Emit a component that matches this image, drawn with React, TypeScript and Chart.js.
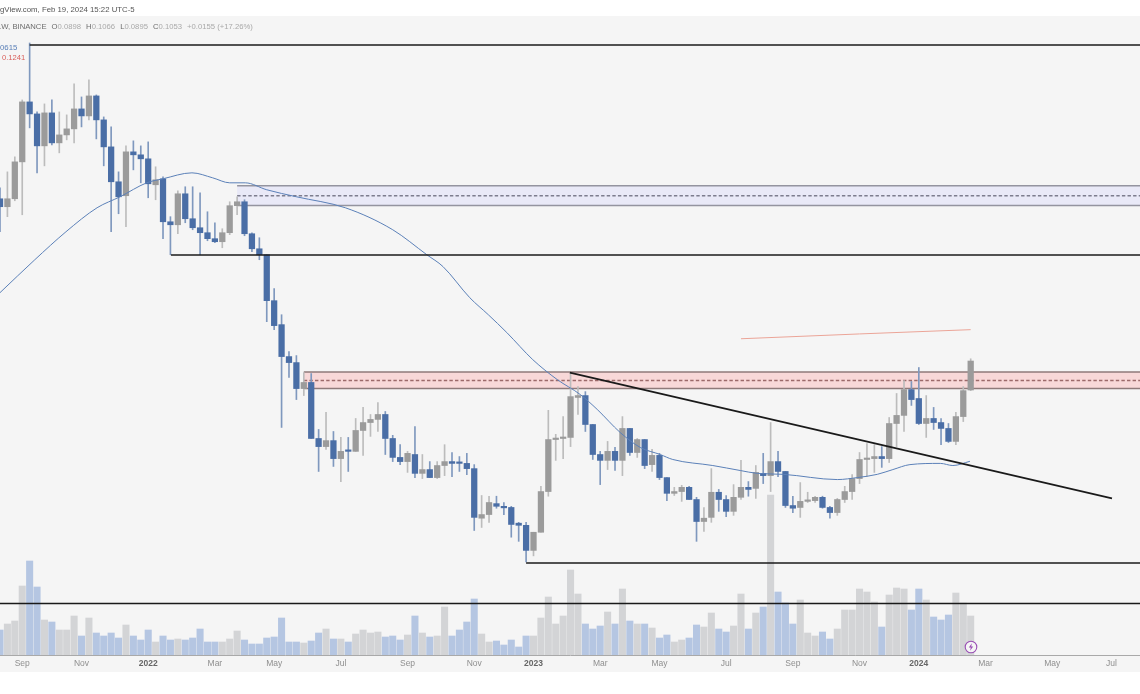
import React, { useEffect, useRef } from "react";
import { Chart, registerables } from "chart.js";

Chart.register(...registerables);

// Weekly candles, one entry per week from the left edge of the picture
const opens = [.2568,.2458,.2568,.3145,.4372,.4093,.3434,.4116,.3491,.3647,.3770,.4207,.4048,.4518,.3961,.3415,.2819,.2611,.3323,.3269,.3198,.2773,.2865,.2263,.2226,.2639,.2301,.2190,.2131,.2062,.2028,.2131,.2472,.2526,.2119,.1951,.1888,.1467,.1286,.1079,.1044,.0905,.0936,.0688,.0658,.0680,.0616,.0644,.0641,.0719,.0751,.0764,.0785,.0688,.0620,.0606,.0630,.0568,.0580,.0555,.0593,.0606,.0603,.0600,.0583,.0444,.0453,.0481,.0471,.0471,.0432,.0427,.0372,.0411,.0514,.0684,.0688,.0692,.0862,.0871,.0743,.0630,.0610,.0641,.0610,.0727,.0637,.0684,.0596,.0627,.0555,.0509,.0514,.0526,.0492,.0436,.0446,.0512,.0492,.0461,.0498,.0526,.0523,.0568,.0561,.0606,.0574,.0476,.0471,.0487,.0489,.0498,.0471,.0458,.0492,.0514,.0552,.0613,.0616,.0623,.0616,.0747,.0781,.0900,.0857,.0747,.0768,.0751,.0727,.0677,.0776,.0898];
const highs = [.2728,.2977,.3233,.4420,.6043,.4138,.4324,.4420,.4138,.4071,.4826,.4493,.4933,.4543,.4026,.3811,.2977,.3434,.3530,.3434,.3510,.3061,.2897,.2327,.2683,.2743,.2743,.2654,.2391,.2251,.2178,.2526,.2596,.2554,.2131,.2073,.1888,.1567,.1358,.1109,.1085,.0988,.0983,.0723,.0794,.0715,.0692,.0692,.0768,.0816,.0785,.0838,.0798,.0700,.0665,.0641,.0735,.0630,.0606,.0606,.0665,.0637,.0623,.0634,.0596,.0503,.0501,.0501,.0484,.0474,.0434,.0434,.0411,.0529,.0803,.0704,.0776,.0988,.0915,.0890,.0743,.0641,.0677,.0655,.0776,.0727,.0688,.0684,.0648,.0634,.0555,.0526,.0532,.0529,.0498,.0471,.0583,.0520,.0503,.0534,.0610,.0543,.0593,.0634,.0751,.0641,.0574,.0501,.0540,.0512,.0501,.0501,.0474,.0495,.0529,.0564,.0637,.0669,.0665,.0658,.0772,.0881,.0946,.0941,.1016,.0871,.0816,.0768,.0747,.0794,.0915,.1066];
const lows = [.2142,.2327,.2540,.2352,.3791,.2961,.3077,.3453,.3305,.3549,.3491,.3811,.3961,.3568,.3077,.2142,.2365,.2202,.3010,.2803,.2582,.2554,.2062,.1888,.2119,.2251,.2166,.1888,.2039,.2017,.1962,.2108,.2352,.2096,.1920,.1837,.1307,.1251,.0731,.0962,.0852,.0871,.0688,.0574,.0648,.0590,.0543,.0574,.0641,.0627,.0696,.0715,.0630,.0606,.0596,.0571,.0555,.0552,.0555,.0552,.0561,.0558,.0574,.0564,.0415,.0422,.0434,.0469,.0453,.0400,.0391,.0349,.0361,.0411,.0501,.0610,.0616,.0658,.0785,.0715,.0613,.0534,.0580,.0577,.0561,.0627,.0620,.0583,.0574,.0549,.0489,.0503,.0487,.0492,.0391,.0413,.0434,.0461,.0448,.0451,.0492,.0501,.0495,.0537,.0514,.0558,.0471,.0458,.0446,.0484,.0484,.0469,.0444,.0451,.0484,.0492,.0537,.0558,.0571,.0587,.0603,.0658,.0715,.0825,.0743,.0692,.0723,.0665,.0673,.0665,.0755,.0895];
const closes = [.2458,.2568,.3145,.4372,.4093,.3434,.4116,.3491,.3647,.3770,.4207,.4048,.4518,.3961,.3415,.2819,.2596,.3323,.3269,.3198,.2788,.2850,.2263,.2226,.2639,.2301,.2190,.2131,.2062,.2028,.2131,.2472,.2526,.2119,.1951,.1888,.1467,.1279,.1079,.1044,.0905,.0936,.0688,.0658,.0680,.0616,.0641,.0641,.0719,.0751,.0764,.0785,.0688,.0620,.0606,.0634,.0568,.0580,.0555,.0593,.0606,.0600,.0600,.0583,.0446,.0453,.0484,.0474,.0470,.0429,.0427,.0372,.0411,.0514,.0684,.0688,.0692,.0866,.0871,.0743,.0630,.0610,.0641,.0610,.0727,.0637,.0684,.0593,.0627,.0555,.0509,.0514,.0526,.0492,.0436,.0444,.0512,.0492,.0461,.0498,.0526,.0520,.0571,.0561,.0606,.0574,.0476,.0469,.0487,.0489,.0498,.0471,.0458,.0492,.0514,.0552,.0613,.0616,.0623,.0616,.0747,.0781,.0900,.0852,.0747,.0768,.0751,.0727,.0677,.0776,.0895,.1053];
const volumes = [25,31,34,69,94,68,35,33,25,25,39,19,37,22,19,22,17,30,19,15,25,13,19,15,16,15,17,26,13,13,13,16,24,15,11,11,17,18,37,13,13,12,14,22,26,16,16,13,21,25,22,23,18,19,15,20,39,22,18,19,48,19,25,33,56,21,13,14,10,15,8,19,19,37,58,31,39,85,61,31,26,29,43,31,66,34,31,31,27,17,20,13,15,17,30,28,42,26,23,29,61,26,42,48,160,63,52,31,55,22,19,23,16,26,45,45,66,63,53,28,60,67,66,45,66,55,38,35,40,62,52,39];

// Moving average
const maWeeks = [0,4.7,8.9,13.1,16.2,19.8,22,25.9,28.7,31,33.1,36,40,46.6,53,57.6,59.8,63.4,65.9,68.4,71.9,75.2,78.3,80.6,83.7,86.4,89.1,90.8,96.2,99.9,102.2,105.7,113,115.7,118.4,120.5,122.8,126.9,128.6,130.9];
const maValues = [.1533,.1837,.2142,.2444,.2596,.2803,.2866,.2961,.2881,.2803,.2803,.2698,.2596,.2444,.2166,.1888,.1768,.1491,.1358,.1231,.1061,.0951,.0876,.0807,.0711,.0655,.0630,.0613,.0593,.0577,.0568,.0565,.0549,.0555,.0565,.0580,.0596,.0600,.0593,.0607];

const redWeeks = [100, 116, 131];
const redValues = [.1190, .1222, .1251];

const trendWeeks = [76.9, 150.07];
const trendValues = [.0988, .0495];

const lastWeek = 153.85;
const levelHigh = { from: 4, value: .5977 };
const levelMid = { from: 23.07, value: .1885 };
const levelLow = { from: 71, value: .0347 };
const levelVol = { from: 0, value: .02778 };

const purpleZone = { from: 32, top: .2758, mid: .2611, bottom: .2475 };
const redZone = { from: 41, top: .0991, mid: .0946, bottom: .0905 };

const tickWeeks = [3, 11, 20, 29, 37, 46, 55, 64, 72, 81, 89, 98, 107, 116, 124, 133, 142, 150];
const tickLabels = ["Sep", "Nov", "2022", "Mar", "May", "Jul", "Sep", "Nov", "2023", "Mar", "May", "Jul", "Sep", "Nov", "2024", "Mar", "May", "Jul"];
const yearLabels = ["2022", "2023", "2024"];

const ohlcParts = [
  ["O", "0.0898"],
  ["H", "0.1066"],
  ["L", "0.0895"],
  ["C", "0.1053"],
];

const FONT = '"Liberation Sans", Arial, sans-serif';

const hline = (level: { from: number; value: number }) => ({
  type: "line" as const,
  data: [{ x: level.from, y: level.value }, { x: lastWeek, y: level.value }],
  borderColor: "#1a1a1a",
  borderWidth: 1.6,
  pointRadius: 0,
  order: 5,
  yAxisID: "y",
  xAxisID: "x",
});

const zoneDatasets = (z: typeof purpleZone, fill: string, edge: string, dash: string) => [
  {
    type: "line" as const,
    data: [{ x: z.from, y: z.top }, { x: lastWeek, y: z.top }],
    borderColor: edge,
    borderWidth: 1.5,
    pointRadius: 0,
    fill: "+1",
    backgroundColor: fill,
    order: 50,
    yAxisID: "y",
    xAxisID: "x",
  },
  {
    type: "line" as const,
    data: [{ x: z.from, y: z.bottom }, { x: lastWeek, y: z.bottom }],
    borderColor: edge,
    borderWidth: 1.5,
    pointRadius: 0,
    order: 49,
    yAxisID: "y",
    xAxisID: "x",
  },
  {
    type: "line" as const,
    data: [{ x: z.from, y: z.mid }, { x: lastWeek, y: z.mid }],
    borderColor: dash,
    borderWidth: 1.3,
    borderDash: [3.4, 2.2],
    pointRadius: 0,
    order: 48,
    yAxisID: "y",
    xAxisID: "x",
  },
];

export default function App() {
  const ref = useRef<HTMLCanvasElement | null>(null);

  useEffect(() => {
    if (!ref.current) return;
    const weeks = opens.map((_, i) => i);
    const isDown = (i: number) => closes[i] < opens[i];
    const isYearTick = (ctx: any) => yearLabels.includes(tickLabels[tickWeeks.indexOf(ctx?.tick?.value)]);
    const chart = new Chart(ref.current, {
      type: "bar",
      data: {
        datasets: [
          {
            type: "bar",
            data: weeks.map((i) => ({ x: i, y: volumes[i] })),
            backgroundColor: weeks.map((i) => (isDown(i) ? "#b5c6e2" : "#d3d4d6")),
            barThickness: 6.4,
            grouped: false,
            order: 60,
            yAxisID: "yVol",
            xAxisID: "x",
          },
          ...zoneDatasets(purpleZone, "#e9e9f7", "#94949f", "#7d7d8e"),
          ...zoneDatasets(redZone, "#f8d8d8", "#8f7a7a", "#9c6a6a"),
          {
            type: "bar",
            data: weeks.map((i) => ({ x: i, y: [lows[i], highs[i]] })),
            backgroundColor: weeks.map((i) => (isDown(i) ? "#7f98be" : "#bcbcbc")),
            barThickness: 1,
            grouped: false,
            order: 30,
            yAxisID: "y",
            xAxisID: "x",
          },
          {
            type: "bar",
            data: weeks.map((i) => ({ x: i, y: [Math.min(opens[i], closes[i]), Math.max(opens[i], closes[i])] })),
            backgroundColor: weeks.map((i) => (isDown(i) ? "#4a6ea6" : "#9b9b9b")),
            barThickness: 5.6,
            minBarLength: 1.5,
            grouped: false,
            order: 20,
            yAxisID: "y",
            xAxisID: "x",
          },
          {
            type: "line",
            data: maWeeks.map((w, i) => ({ x: w, y: maValues[i] })),
            borderColor: "#5b80b8",
            borderWidth: 1,
            pointRadius: 0,
            cubicInterpolationMode: "monotone",
            order: 10,
            yAxisID: "y",
            xAxisID: "x",
          },
          {
            type: "line",
            data: redWeeks.map((w, i) => ({ x: w, y: redValues[i] })),
            borderColor: "#eba497",
            borderWidth: 1,
            pointRadius: 0,
            order: 10,
            yAxisID: "y",
            xAxisID: "x",
          },
          {
            type: "line",
            data: trendWeeks.map((w, i) => ({ x: w, y: trendValues[i] })),
            borderColor: "#1a1a1a",
            borderWidth: 1.7,
            pointRadius: 0,
            order: 5,
            yAxisID: "y",
            xAxisID: "x",
          },
          hline(levelHigh),
          hline(levelMid),
          hline(levelLow),
          hline(levelVol),
        ] as any,
      },
      options: {
        animation: false,
        responsive: false,
        devicePixelRatio: 1,
        layout: { padding: 0 },
        plugins: { legend: { display: false }, tooltip: { enabled: false } },
        scales: {
          x: {
            type: "linear",
            min: 0,
            max: lastWeek,
            offset: false,
            grid: { display: false, drawTicks: false },
            border: { display: true, color: "#a9a9a9", width: 1 },
            afterFit: (s: any) => {
              s.height = 39;
            },
            afterBuildTicks: (s: any) => {
              s.ticks = tickWeeks.map((value) => ({ value }));
            },
            ticks: {
              autoSkip: false,
              maxRotation: 0,
              padding: 4,
              callback: (v: any) => tickLabels[tickWeeks.indexOf(Number(v))],
              color: (ctx: any) => (isYearTick(ctx) ? "#666" : "#8f8f8f"),
              font: (ctx: any) => ({ family: FONT, size: 8.5, weight: isYearTick(ctx) ? "bold" : "normal" }),
            },
          } as any,
          y: {
            type: "logarithmic",
            display: false,
            min: 0.02094,
            max: 0.7653,
          },
          yVol: {
            type: "linear",
            display: false,
            min: 0,
            max: 655,
          },
        },
      },
    });
    return () => chart.destroy();
  }, []);

  const grey = "#6d6d6d";
  const pale = "#a9a9a9";
  return (
    <div style={{ position: "fixed", left: 0, top: 0, width: 1140, height: 694, background: "#fff", overflow: "hidden", fontFamily: FONT, filter: "blur(0.4px)" }}>
      <div style={{ position: "absolute", left: 0, top: 16, width: 1140, height: 656, background: "#f5f5f5" }} />
      <canvas ref={ref} width={1140} height={694} style={{ position: "absolute", left: 0, top: 0, width: 1140, height: 694 }} />
      <div style={{ position: "absolute", left: 0, top: 4, fontSize: 7.8, lineHeight: "12px", color: "#555", whiteSpace: "nowrap" }}>
        gView.com, Feb 19, 2024 15:22 UTC-5
      </div>
      <div style={{ position: "absolute", left: -3, top: 21, fontSize: 7.7, lineHeight: "12px", color: grey, whiteSpace: "nowrap" }}>
        1W, BINANCE
        {ohlcParts.map(([k, v]) => (
          <span key={k} style={{ marginLeft: 5 }}>
            {k}
            <span style={{ color: pale }}>{v}</span>
          </span>
        ))}
        <span style={{ marginLeft: 5, color: pale }}>+0.0155 (+17.26%)</span>
      </div>
      <div style={{ position: "absolute", left: 0, top: 42, fontSize: 7.8, lineHeight: "12px", color: "#5b80b8" }}>0615</div>
      <div style={{ position: "absolute", left: 2, top: 52, fontSize: 7.6, lineHeight: "12px", color: "#d9605c" }}>0.1241</div>
      <svg width={14} height={14} viewBox="0 0 14 14" style={{ position: "absolute", left: 964, top: 640 }}>
        <circle cx={7} cy={7} r={5.8} fill="#f5f5f5" stroke="#9a4fb5" strokeWidth={1.1} />
        <path d="M7.9 3.2 L4.8 7.6 L6.8 7.6 L6.1 10.8 L9.2 6.4 L7.2 6.4 Z" fill="#9a4fb5" />
      </svg>
    </div>
  );
}
